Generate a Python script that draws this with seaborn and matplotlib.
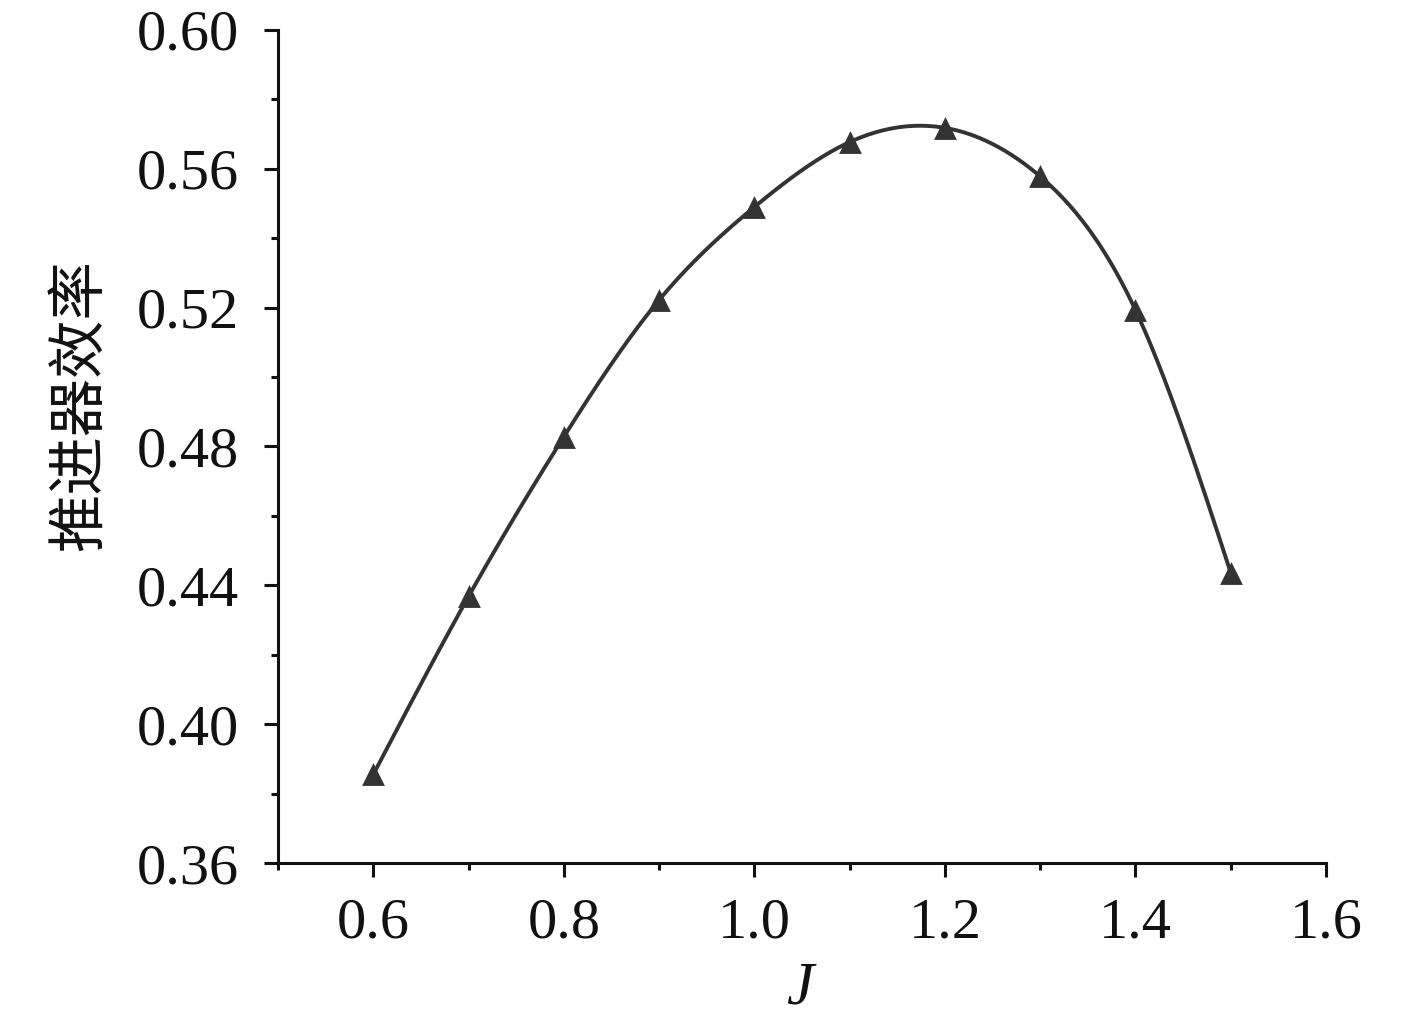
import matplotlib
matplotlib.use('Agg')
import matplotlib.pyplot as plt
import seaborn as sns
import pandas as pd
import numpy as np
from matplotlib.ticker import MultipleLocator

# Data
advance_ratio = [0.6, 0.7, 0.8, 0.9, 1.0, 1.1, 1.2, 1.3, 1.4, 1.5]
efficiency = [0.3855, 0.4368, 0.4828, 0.5222, 0.5490, 0.5677, 0.5718, 0.5578, 0.5193, 0.4436]
x_ticks = [0.6, 0.8, 1.0, 1.2, 1.4, 1.6]
x_tick_labels = ['0.6', '0.8', '1.0', '1.2', '1.4', '1.6']
y_ticks = [0.36, 0.40, 0.44, 0.48, 0.52, 0.56, 0.60]
y_tick_labels = ['0.36', '0.40', '0.44', '0.48', '0.52', '0.56', '0.60']


def natural_spline(x, y, n=400):
    # natural cubic spline through the measured points, used only to draw the smooth line
    x = np.asarray(x, float)
    y = np.asarray(y, float)
    h = np.diff(x)
    k = len(x)
    A = np.zeros((k, k))
    b = np.zeros(k)
    A[0, 0] = A[-1, -1] = 1.0
    for i in range(1, k - 1):
        A[i, i - 1] = h[i - 1]
        A[i, i] = 2 * (h[i - 1] + h[i])
        A[i, i + 1] = h[i]
        b[i] = 6 * ((y[i + 1] - y[i]) / h[i] - (y[i] - y[i - 1]) / h[i - 1])
    m = np.linalg.solve(A, b)
    xs = np.linspace(x[0], x[-1], n)
    idx = np.clip(np.searchsorted(x, xs) - 1, 0, k - 2)
    t0 = x[idx]
    t1 = x[idx + 1]
    hh = h[idx]
    ys = (m[idx] * (t1 - xs) ** 3 / (6 * hh) + m[idx + 1] * (xs - t0) ** 3 / (6 * hh)
          + (y[idx] / hh - m[idx] * hh / 6) * (t1 - xs)
          + (y[idx + 1] / hh - m[idx + 1] * hh / 6) * (xs - t0))
    return xs, ys


def main():
    sns.set_style('ticks')
    plt.rcParams['font.family'] = ['Liberation Serif', 'Noto Sans CJK SC', 'DejaVu Sans']
    plt.rcParams['mathtext.fontset'] = 'custom'
    plt.rcParams['mathtext.it'] = 'Liberation Serif:italic'

    df = pd.DataFrame({'J': advance_ratio, 'eta': efficiency})
    xs, ys = natural_spline(df['J'], df['eta'])
    smooth = pd.DataFrame({'J': xs, 'eta': ys})

    fig = plt.figure(figsize=(14.17, 10.23), dpi=100)
    ax = fig.add_axes([0.1962, 0.1564, 0.7396, 0.8143])

    color = '#333333'
    sns.lineplot(data=smooth, x='J', y='eta', ax=ax, color=color, linewidth=2.8, sort=False)
    sns.scatterplot(data=df, x='J', y='eta', ax=ax, marker='^', s=270, color=color,
                    edgecolor=color, linewidth=0, zorder=3)

    ax.set_xlim(0.5, 1.6)
    ax.set_ylim(0.36, 0.60)
    ax.xaxis.set_minor_locator(MultipleLocator(0.1))
    ax.yaxis.set_minor_locator(MultipleLocator(0.02))
    ax.set_xticks(x_ticks)
    ax.set_xticklabels(x_tick_labels)
    ax.set_yticks(y_ticks)
    ax.set_yticklabels(y_tick_labels)

    ax.tick_params(axis='both', which='major', direction='out', length=10, width=2.2,
                   labelsize=42, color='#111111', labelcolor='#111111')
    ax.tick_params(axis='x', which='major', pad=15)
    ax.tick_params(axis='y', which='major', pad=18)
    ax.tick_params(axis='both', which='minor', direction='out', length=5, width=2.2,
                   color='#111111')

    sns.despine(ax=ax)
    for side in ['left', 'bottom']:
        ax.spines[side].set_linewidth(2.2)
        ax.spines[side].set_color('#111111')

    ax.set_xlabel('$J$', fontsize=44, color='#111111', labelpad=8)
    ax.set_ylabel('推进器效率', fontsize=42, color='#111111',
                  family=['Noto Sans CJK SC', 'DejaVu Sans'])
    ax.yaxis.set_label_coords(-0.16, 0.55)

    fig.savefig('out.png', dpi=100)


if __name__ == "__main__":
    main()
